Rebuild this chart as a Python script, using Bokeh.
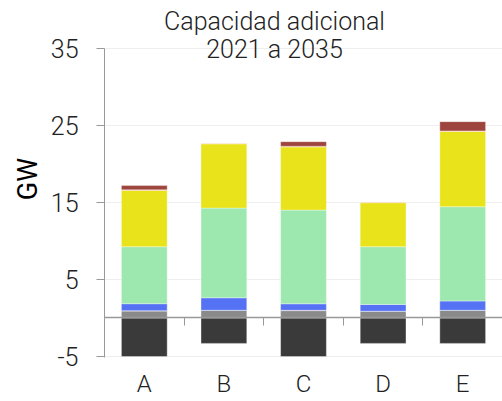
from bokeh.plotting import figure
from bokeh.models import (ColumnDataSource, FactorRange, Range1d, LinearAxis, CategoricalAxis,
                          FixedTicker, Label)
from bokeh.embed import file_html
from bokeh.resources import INLINE

categories = ["A", "B", "C", "D", "E"]
negativo = [-5.0, -3.3, -5.0, -3.3, -3.3]
gris = [0.9, 1.0, 0.95, 0.88, 1.0]
rosa = [0.05, 0.0, 0.05, 0.0, 0.0]
azul = [0.9, 1.62, 0.84, 0.87, 1.2]
verde = [7.4, 11.64, 12.16, 7.5, 12.24]
amarillo = [7.3, 8.34, 8.2, 5.71, 9.76]
naranja = [0.08, 0.08, 0.08, 0.08, 0.08]
rojo = [0.55, 0.0, 0.6, 0.0, 1.2]
y_ticks = [-5, 5, 15, 25, 35]
title_lines = ["Capacidad adicional", "2021 a 2035"]

series = ["gris", "rosa", "azul", "verde", "amarillo", "naranja", "rojo"]
colors = ["#8a8a8a", "#e59a9a", "#5571f4", "#9de8ae", "#e8e31a", "#f59b4a", "#9e443e"]

LIGHT = "Roboto Light, Roboto"
Y_MIN, Y_MAX = -5.13, 41.2

src = ColumnDataSource(dict(cat=categories, neg=negativo, gris=gris, rosa=rosa, azul=azul,
                            verde=verde, amarillo=amarillo, naranja=naranja, rojo=rojo))

p = figure(width=502, height=401, x_range=FactorRange(*categories), y_range=Range1d(Y_MIN, Y_MAX),
           output_backend="svg", toolbar_location=None, x_axis_location=None, y_axis_location=None,
           min_border_left=104, min_border_right=0, min_border_top=0, min_border_bottom=44)
p.outline_line_color = None
p.background_fill_color = "white"

p.vbar(x="cat", top="neg", bottom=0, width=0.575, source=src, fill_color="#3a3a3a",
       line_color="white", line_alpha=0.35)
p.vbar_stack(series, x="cat", width=0.575, source=src, fill_color=colors,
             line_color="white", line_alpha=0.35)

# y axis
yax = LinearAxis(ticker=FixedTicker(ticks=y_ticks), axis_label="GW", bounds=(Y_MIN, max(y_ticks)))
yax.axis_line_color = "#999999"
yax.major_tick_line_color = "#999999"
yax.major_tick_out = 8
yax.major_tick_in = 0
yax.minor_tick_line_color = None
yax.major_label_overrides = {t: str(t) for t in y_ticks}
yax.major_label_standoff = 18
yax.major_label_text_font = LIGHT
yax.major_label_text_font_size = "25px"
yax.major_label_text_color = "#222222"
yax.axis_label_text_font = "Roboto"
yax.axis_label_text_font_size = "27px"
yax.axis_label_text_font_style = "normal"
yax.axis_label_text_color = "#000000"
yax.axis_label_standoff = 4
p.add_layout(yax, "left")

# category labels
xax = CategoricalAxis()
xax.axis_line_color = None
xax.major_tick_line_color = None
xax.major_tick_out = 0
xax.major_tick_in = 0
xax.major_label_standoff = 12
xax.major_label_text_font = LIGHT
xax.major_label_text_font_size = "24px"
xax.major_label_text_color = "#222222"
p.add_layout(xax, "below")

# zero axis with ticks between categories
zticks = list(range(1, len(categories)))
zax = LinearAxis(fixed_location=0, ticker=FixedTicker(ticks=zticks))
zax.axis_line_color = "#999999"
zax.axis_line_width = 1.5
zax.major_tick_line_color = "#999999"
zax.major_tick_out = 8
zax.major_tick_in = 0
zax.minor_tick_line_color = None
zax.major_label_overrides = {t: "" for t in zticks}
p.add_layout(zax, "below")

p.ygrid.ticker = FixedTicker(ticks=y_ticks)
p.ygrid.grid_line_color = "#eeeeee"
p.xgrid.grid_line_color = None

for i, t in enumerate(title_lines):
    p.add_layout(Label(x=170, y=308 + 28 * (1 - i), x_units="screen", y_units="screen", text=t,
                       text_align="center", text_baseline="middle", text_font=LIGHT,
                       text_font_size="25px", text_color="#222222"))

open("out.html", "w").write(file_html(p, INLINE))
